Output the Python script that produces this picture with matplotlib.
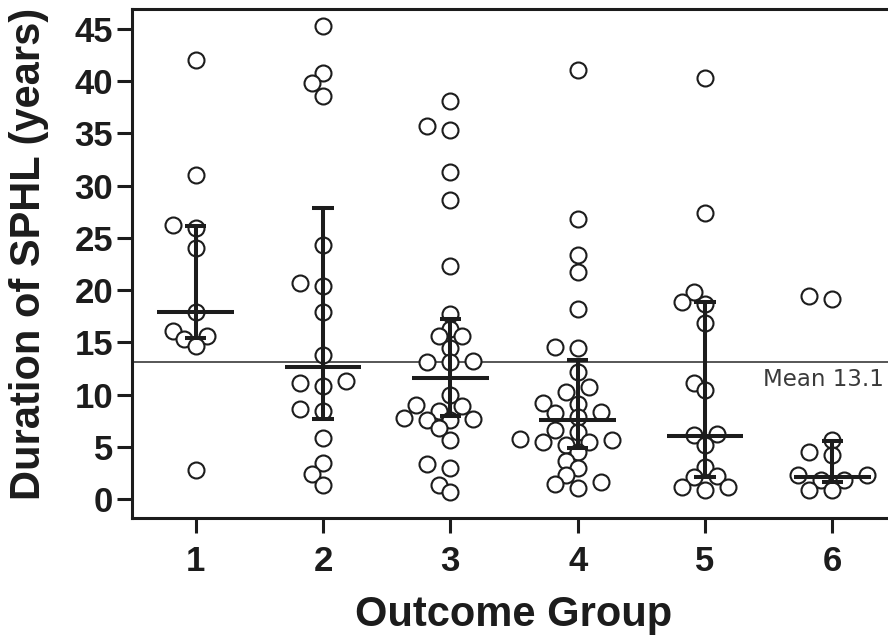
import numpy as np
import matplotlib
matplotlib.use("Agg")
import matplotlib.pyplot as plt

plt.rcParams['font.family'] = ['Liberation Sans', 'DejaVu Sans']

# ---- data ----
groups = [1, 2, 3, 4, 5, 6]
g1 = [42.0, 31.0, 26.2, 25.9, 24.0, 17.9, 16.1, 15.6, 15.3, 14.65, 2.75]
g2 = [45.3, 40.8, 39.8, 38.6, 24.3, 20.7, 20.4, 17.9, 13.8, 11.3, 11.1, 10.8,
      8.6, 8.4, 5.9, 3.5, 2.45, 1.35]
g3 = [38.1, 35.7, 35.3, 31.35, 28.6, 22.3, 17.7, 16.25, 15.6, 15.6, 14.5, 13.25,
      13.15, 13.15, 9.96, 9.0, 8.9, 8.45, 7.8, 7.7, 7.6, 7.55, 6.85, 5.65, 3.4,
      3.0, 1.35, 0.7]
g4 = [41.1, 26.8, 23.4, 21.7, 18.2, 14.6, 14.5, 12.2, 10.7, 10.3, 9.2, 9.15,
      8.3, 8.2, 7.9, 6.6, 6.45, 5.8, 5.7, 5.5, 5.5, 5.2, 4.5, 3.7, 3.0, 2.3,
      1.65, 1.5, 1.1]
g5 = [40.3, 27.4, 19.8, 18.9, 18.7, 16.9, 11.1, 10.4, 6.2, 6.1, 5.2, 3.1, 2.2,
      2.1, 1.2, 1.2, 0.86]
g6 = [19.4, 19.2, 5.7, 4.5, 4.2, 2.3, 2.3, 1.8, 1.8, 0.86, 0.86]
group_values = [g1, g2, g3, g4, g5, g6]

centre = [17.9, 12.6, 11.6, 7.6, 6.07, 2.1]
upper = [26.1, 27.9, 17.2, 13.3, 18.9, 5.6]
lower = [15.4, 7.7, 7.95, 4.9, 2.1, 1.6]

overall_mean = 13.1
mean_label = "Mean 13.1"
yticks = [0, 5, 10, 15, 20, 25, 30, 35, 40, 45]
xlabel = "Outcome Group"
ylabel = "Duration of SPHL (years)"

# ---- figure ----
W, H, DPI = 888, 639, 100
fig = plt.figure(figsize=(W / DPI, H / DPI), dpi=DPI)
ax_left, ax_right = 132 / W, 896 / W
ax_bottom, ax_top = 1 - 518 / H, 1 - 9 / H
ax = fig.add_axes([ax_left, ax_bottom, ax_right - ax_left, ax_top - ax_bottom])
xlim = (0.5, 6.5)
ylim = (-1.8, 46.9)
ax.set_xlim(*xlim)
ax.set_ylim(*ylim)

# pixel scales for the swarm layout
px_per_x = (ax_right - ax_left) * W / (xlim[1] - xlim[0])
px_per_y = (ax_top - ax_bottom) * H / (ylim[1] - ylim[0])


def swarm(values, step_px=11.5, dmin_px=13.0):
    order = np.argsort(values)
    placed = []
    offs = np.zeros(len(values))
    cands = [0]
    for k in range(1, 12):
        cands += [-k, k]
    for i in order:
        vy = values[i] * px_per_y
        for c in cands:
            ox = c * step_px
            ok = True
            for (px, py) in placed:
                if (px - ox) ** 2 + (py - vy) ** 2 < dmin_px ** 2:
                    ok = False
                    break
            if ok:
                break
        placed.append((ox, vy))
        offs[i] = ox / px_per_x
    return offs


ink = '#1c1c1c'
for g, vals in zip(groups, group_values):
    vals = np.array(vals)
    xs = g + swarm(vals)
    ax.plot(xs, vals, 'o', ms=11.5, mfc='white', mec=ink, mew=1.5, zorder=3,
            clip_on=False)

# overall mean line
ax.axhline(overall_mean, color='#3a3a3a', lw=1.2, zorder=2)
ax.text(884 / W, 1 - 380 / H, mean_label, transform=fig.transFigure,
        ha='right', va='center', fontsize=16.5, color='#3a3a3a', zorder=5,
        family='DejaVu Sans')

# median / IQR bars
half_w = 0.30
cap_w = 0.085
for g, c, lo, up in zip(groups, centre, lower, upper):
    ax.plot([g, g], [lo, up], color=ink, lw=2.9, zorder=4, solid_capstyle='butt')
    ax.plot([g - cap_w, g + cap_w], [up, up], color=ink, lw=2.9, zorder=4,
            solid_capstyle='butt')
    ax.plot([g - cap_w, g + cap_w], [lo, lo], color=ink, lw=2.9, zorder=4,
            solid_capstyle='butt')
    ax.plot([g - half_w, g + half_w], [c, c], color=ink, lw=2.9, zorder=4,
            solid_capstyle='butt')

# axes styling
for s in ['left', 'bottom', 'top', 'right']:
    ax.spines[s].set_linewidth(2.2)
    ax.spines[s].set_color(ink)
ax.set_xticks(groups)
ax.set_xticklabels([str(g) for g in groups])
ax.set_yticks(yticks)
ax.set_yticklabels([str(t) for t in yticks])
ax.tick_params(axis='both', direction='out', length=10.5, width=2.2, color=ink,
               labelsize=25, pad=3)
ax.tick_params(axis='x', pad=9)
for lab in ax.get_xticklabels() + ax.get_yticklabels():
    lab.set_fontweight('bold')
    lab.set_color(ink)
ax.set_xlabel(xlabel, fontsize=30, fontweight='bold', color=ink, labelpad=12)
ax.set_ylabel(ylabel, fontsize=30, fontweight='bold', color=ink)
ax.yaxis.set_label_coords(-0.108, 0.5 + 10 / 509)

fig.savefig('out.png', dpi=DPI)
